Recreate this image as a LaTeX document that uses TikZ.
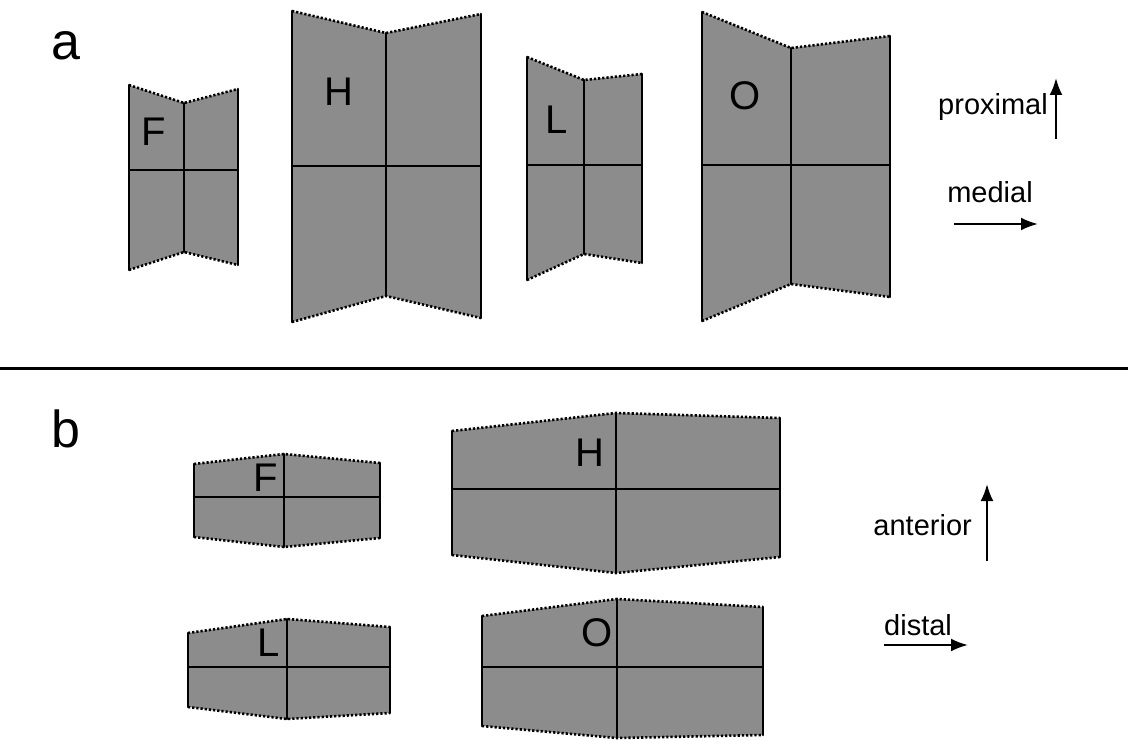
\documentclass[tikz,border=0pt]{standalone}
\usepackage{fontspec}
\setmainfont{Liberation Sans}
\usetikzlibrary{arrows.meta}
\tikzset{
  bonefill/.style={fill=black!45},
  solidedge/.style={line width=2.4pt, line cap=round},
  dotedge/.style={line width=2.6pt, dash pattern=on 2.2pt off 2pt},
  letter/.style={font=\fontsize{40}{44}\selectfont, inner sep=0pt},
  panel/.style={font=\fontsize{52}{58}\selectfont, inner sep=0pt, anchor=base},
  dirlabel/.style={font=\fontsize{29}{33}\selectfont, inner sep=0pt},
  dirarrow/.style={line width=2.4pt, -{Latex[length=17pt,width=13pt]}},
}
\newcommand\drawbone{%
  \fill[bonefill] (tl)--(tc)--(tr)--(br)--(bc)--(bl)--cycle;
  \draw[solidedge] (tl)--(bl) (tc)--(bc) (tr)--(br) (hl)--(hr);
  \draw[dotedge] (tl)--(tc)--(tr) (bl)--(bc)--(br);}
\begin{document}
\begin{tikzpicture}[x=1pt,y=-1pt]
\useasboundingbox (0,0) rectangle (1128,741);
% part a
\node[panel] (pa) at (66,60) {a};
% F
\coordinate (tl) at (129,85); \coordinate (tc) at (184,103); \coordinate (tr) at (238,89);
\coordinate (bl) at (129,270); \coordinate (bc) at (184,252); \coordinate (br) at (238,265);
\coordinate (hl) at (129,170); \coordinate (hr) at (238,170);
\drawbone
\node[letter] (aF) at (154,132) {F};
% H
\coordinate (tl) at (292,11); \coordinate (tc) at (386,33); \coordinate (tr) at (481,14);
\coordinate (bl) at (292,322); \coordinate (bc) at (386,296); \coordinate (br) at (481,318);
\coordinate (hl) at (292,166); \coordinate (hr) at (481,166);
\drawbone
\node[letter] (aH) at (339,92) {H};
% L
\coordinate (tl) at (527,57); \coordinate (tc) at (584,80); \coordinate (tr) at (642,74);
\coordinate (bl) at (527,280); \coordinate (bc) at (584,254); \coordinate (br) at (642,263);
\coordinate (hl) at (527,165); \coordinate (hr) at (642,165);
\drawbone
\node[letter] (aL) at (557,120) {L};
% O
\coordinate (tl) at (702,12); \coordinate (tc) at (791,48); \coordinate (tr) at (890,36);
\coordinate (bl) at (702,321); \coordinate (bc) at (791,284); \coordinate (br) at (890,297);
\coordinate (hl) at (702,165); \coordinate (hr) at (890,165);
\drawbone
\node[letter] (aO) at (745,96) {O};
% direction a
\coordinate (px0) at (1056,139); \coordinate (px1) at (1056,78);
\draw[dirarrow] (px0) -- (px1);
\node[dirlabel, anchor=base east] (prox) at (1048,115) {proximal};
\coordinate (md0) at (954,224); \coordinate (md1) at (1038,224);
\draw[dirarrow] (md0) -- (md1);
\node[dirlabel, anchor=base] (med) at (990,203) {medial};
% separator
\coordinate (s0) at (0,368); \coordinate (s1) at (1128,368);
\draw[line width=3pt] (s0) -- (s1);
% part b
\node[panel] (pb) at (66,447) {b};
% F
\coordinate (tl) at (194,464); \coordinate (tc) at (284,454); \coordinate (tr) at (380,463);
\coordinate (bl) at (194,537); \coordinate (bc) at (284,547); \coordinate (br) at (380,538);
\coordinate (hl) at (194,497); \coordinate (hr) at (380,497);
\drawbone
\node[letter] (bF) at (266,478) {F};
% H
\coordinate (tl) at (452,431); \coordinate (tc) at (616,413); \coordinate (tr) at (780,418);
\coordinate (bl) at (452,555); \coordinate (bc) at (616,573); \coordinate (br) at (780,557);
\coordinate (hl) at (452,489); \coordinate (hr) at (780,489);
\drawbone
\node[letter] (bH) at (590,453) {H};
% L
\coordinate (tl) at (188,633); \coordinate (tc) at (287,619); \coordinate (tr) at (390,627);
\coordinate (bl) at (188,707); \coordinate (bc) at (287,719); \coordinate (br) at (390,713);
\coordinate (hl) at (188,667); \coordinate (hr) at (390,667);
\drawbone
\node[letter] (bL) at (269,643) {L};
% O
\coordinate (tl) at (482,616); \coordinate (tc) at (617,599); \coordinate (tr) at (763,607);
\coordinate (bl) at (482,726); \coordinate (bc) at (617,738); \coordinate (br) at (763,735);
\coordinate (hl) at (482,667); \coordinate (hr) at (763,667);
\drawbone
\node[letter] (bO) at (597,633) {O};
% direction b
\coordinate (an0) at (987,561); \coordinate (an1) at (987,484);
\draw[dirarrow] (an0) -- (an1);
\node[dirlabel, anchor=base east] (ant) at (972,535) {anterior};
\coordinate (ds0) at (884,645); \coordinate (ds1) at (968,645);
\draw[dirarrow] (ds0) -- (ds1);
\node[dirlabel, anchor=base west] (dis) at (884,635) {distal};
\end{tikzpicture}
\end{document}
